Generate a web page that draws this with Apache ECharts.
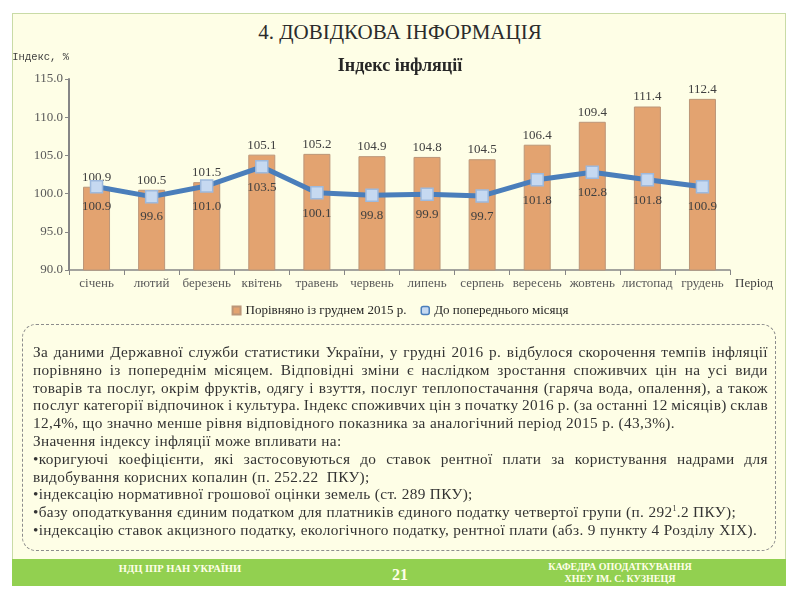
<!DOCTYPE html>
<html>
<head>
<meta charset="utf-8">
<script src="https://cdn.jsdelivr.net/npm/echarts@6/dist/echarts.min.js"></script>
<style>
  html, body { margin:0; padding:0; background:#ffffff; width:800px; height:600px; overflow:hidden; }
  #panel { position:absolute; left:12px; top:13px; width:772px; height:571px; background:#FEFEE6; border:1px solid #C9DBA6; }
  #head { position:absolute; left:0; top:20px; width:800px; text-align:center; font-family:"Liberation Serif", serif; font-size:21px; color:#2b2b2b; }
  #chart { position:absolute; left:0; top:0; width:800px; height:330px; }
  #box { position:absolute; left:22px; top:324px; width:754px; height:227px; border:1.3px dashed #8c8c8c; border-radius:14px; box-sizing:border-box; }
  #txt { position:absolute; left:33px; top:343px; width:735px; font-family:"Liberation Serif", serif; font-size:15.3px; letter-spacing:0.35px; line-height:17.8px; color:#333333; }
  #txt div { white-space:nowrap; }
  #txt div.j { display:flex; justify-content:space-between; }
  sup { font-size:8px; vertical-align:6px; line-height:0; }
  #foot { position:absolute; left:12px; top:559px; width:774px; height:27px; background:#92D050; }
  .ft { position:absolute; color:#FFFFE8; font-family:"Liberation Serif", serif; font-weight:bold; text-align:center; }
</style>
</head>
<body>
<div id="panel"></div>
<div id="head">4. ДОВІДКОВА ІНФОРМАЦІЯ</div>
<div id="chart"></div>
<div id="box"></div>
<div id="txt">
  <div class="j">За даними Державної служби статистики України, у грудні 2016 р. відбулося скорочення темпів інфляції</div>
  <div class="j">порівняно із попереднім місяцем. Відповідні зміни є наслідком зростання споживчих цін на усі види</div>
  <div class="j">товарів та послуг, окрім фруктів, одягу і взуття, послуг теплопостачання (гаряча вода, опалення), а також</div>
  <div class="j">послуг категорії відпочинок і культура. Індекс споживчих цін з початку 2016 р. (за останні 12 місяців) склав</div>
  <div>12,4%, що значно менше рівня відповідного показника за аналогічний період 2015 р. (43,3%).</div>
  <div>Значення індексу інфляції може впливати на:</div>
  <div class="j">•коригуючі коефіцієнти, які застосовуються до ставок рентної плати за користування надрами для</div>
  <div>видобування корисних копалин (п. 252.22&nbsp; ПКУ);</div>
  <div>•індексацію нормативної грошової оцінки земель (ст. 289 ПКУ);</div>
  <div>•базу оподаткування єдиним податком для платників єдиного податку четвертої групи (п. 292<sup>1</sup>.2 ПКУ);</div>
  <div>•індексацію ставок акцизного податку, екологічного податку, рентної плати (абз. 9 пункту 4 Розділу XIX).</div>
</div>
<div id="foot"></div>
<div class="ft" style="left:100px; top:563px; width:160px; font-size:10.5px;">НДЦ ІПР НАН УКРАЇНИ</div>
<div class="ft" style="left:370px; top:566px; width:60px; font-size:16px;">21</div>
<div class="ft" style="left:520px; top:561px; width:200px; font-size:10px; line-height:12px;">КАФЕДРА ОПОДАТКУВАННЯ<br>ХНЕУ ІМ. С. КУЗНЕЦЯ</div>
<script>
document.querySelectorAll('#txt div.j').forEach(d => {
  const words = d.textContent.trim().split(/\s+/);
  d.innerHTML = words.map(w => '<span>' + w + '</span>').join('');
});

const categories = ['січень','лютий','березень','квітень','травень','червень','липень','серпень','вересень','жовтень','листопад','грудень'];
const sinceDec2015 = [100.9, 100.5, 101.5, 105.1, 105.2, 104.9, 104.8, 104.5, 106.4, 109.4, 111.4, 112.4];
const toPrevMonth = [100.9, 99.6, 101.0, 103.5, 100.1, 99.8, 99.9, 99.7, 101.8, 102.8, 101.8, 100.9];
const yTicks = [90, 95, 100, 105, 110, 115];
const seriesNames = ['Порівняно із груднем 2015 р.', 'До попереднього місяця'];

const font = '"Liberation Serif", serif';
const chart = echarts.init(document.getElementById('chart'), null, {renderer:'canvas'});
chart.setOption({
  animation: false,
  title: { text: 'Індекс інфляції', left: 'center', top: 52,
    textStyle: { fontFamily: font, fontSize: 18, fontWeight: 'bold', color: '#262626' } },
  legend: {
    top: 299, left: 'center', itemWidth: 8, itemHeight: 8, itemGap: 14,
    textStyle: { fontFamily: font, fontSize: 13, color: '#262626' },
    data: [
      { name: seriesNames[0], icon: 'rect' },
      { name: seriesNames[1], icon: 'roundRect', itemStyle: { color: '#C6D9F1', borderColor: '#4A7EBB', borderWidth: 1.5 } }
    ]
  },
  grid: { left: 69, top: 79, width: 661, height: 191 },
  xAxis: {
    type: 'category', data: categories,
    axisLine: { lineStyle: { color: '#868686', width: 1.5 } },
    axisTick: { show: true, length: 5, lineStyle: { color: '#868686' } },
    axisLabel: { margin: 7, color: '#595959', fontFamily: font, fontSize: 13, interval: 0 },
    name: 'Період', nameLocation: 'end', nameGap: 5,
    nameTextStyle: { color: '#404040', fontFamily: font, fontSize: 13, verticalAlign: 'top', padding: [7, 0, 0, 0] }
  },
  yAxis: {
    type: 'value', min: yTicks[0], max: yTicks[yTicks.length - 1], interval: 5,
    axisLine: { show: true, lineStyle: { color: '#868686', width: 2 } },
    axisTick: { show: true, length: 4, lineStyle: { color: '#868686' } },
    splitLine: { show: false },
    axisLabel: { margin: 6, color: '#595959', fontFamily: font, fontSize: 13, formatter: v => v.toFixed(1) },
    name: 'Індекс, %', nameLocation: 'end', nameGap: 16,
    nameTextStyle: { color: '#404040', fontFamily: '"Liberation Mono", monospace', fontSize: 10.5, align: 'right' }
  },
  series: [
    {
      name: seriesNames[0], type: 'bar', data: sinceDec2015, barWidth: 27, z: 2,
      itemStyle: { color: '#E3A370', borderColor: '#BC9678', borderWidth: 1 },
      label: { show: true, position: 'top', distance: 3, color: '#404040', fontFamily: font, fontSize: 13,
        formatter: p => p.value.toFixed(1) }
    },
    {
      name: seriesNames[1], type: 'line', data: toPrevMonth, z: 3,
      lineStyle: { color: '#4A7EBB', width: 5 },
      symbol: 'rect', symbolSize: 12,
      itemStyle: { color: '#C6D9F1', borderColor: '#9DB9DD', borderWidth: 1.5 },
      label: { show: true, position: 'bottom', distance: 7, color: '#404040', fontFamily: font, fontSize: 13,
        formatter: p => p.value.toFixed(1) }
    }
  ]
});
</script>
</body>
</html>
